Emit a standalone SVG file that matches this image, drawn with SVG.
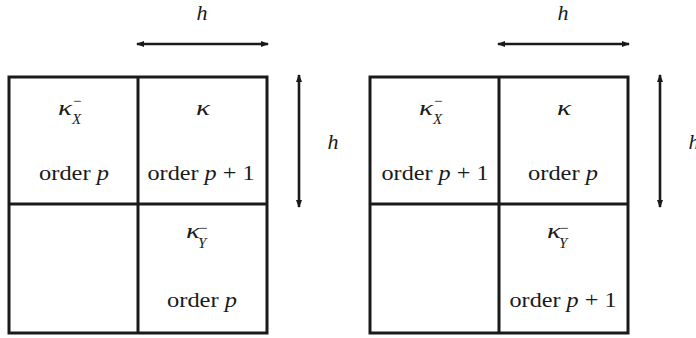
<svg xmlns="http://www.w3.org/2000/svg" width="696" height="338" viewBox="0 0 696 338">
<defs>
<style>
.grid{fill:none;stroke:#1a1a1a;stroke-width:3}
.ln{stroke:#1a1a1a;stroke-width:3;fill:none}
.arr{stroke:#1a1a1a;stroke-width:2.6;fill:none}
text{font-family:"Liberation Serif","Times New Roman",serif;fill:#1a1a1a}
.t{font-size:21px}
.i{font-style:italic}
.k{font-size:22px;font-style:italic}
.s{font-size:15px;font-style:italic}
.m{font-size:15px}
</style>
<marker id="ah" viewBox="0 0 8 6" refX="7" refY="3" markerWidth="8" markerHeight="6" markerUnits="userSpaceOnUse" orient="auto-start-reverse">
<path d="M0,0 L8,3 L0,6 Z" fill="#1a1a1a"/>
</marker>
</defs>

<g id="grid-left">
<rect class="grid" x="9" y="77" width="258" height="256"/>
<line class="ln" x1="138" y1="77" x2="138" y2="333"/>
<line class="ln" x1="9" y1="204" x2="267" y2="204"/>
</g>
<g id="cell-left-tl">
<text class="k" x="58" y="115" textLength="14" lengthAdjust="spacingAndGlyphs">κ</text>
<text class="m" x="73" y="106">−</text>
<text class="s" x="72" y="124">X</text>
<text class="t" x="74" y="180" text-anchor="middle" textLength="70" lengthAdjust="spacingAndGlyphs">order <tspan class="i">p</tspan></text>
</g>
<g id="cell-left-tr">
<text class="k" x="196" y="115" textLength="14" lengthAdjust="spacingAndGlyphs">κ</text>
<text class="t" x="201" y="180" text-anchor="middle" textLength="107" lengthAdjust="spacingAndGlyphs">order <tspan class="i">p</tspan> + 1</text>
</g>
<g id="cell-left-br">
<text class="k" x="186" y="238" textLength="14" lengthAdjust="spacingAndGlyphs">κ</text>
<text class="m" x="199" y="233">−</text>
<text class="s" x="198" y="248">Y</text>
<text class="t" x="202" y="307" text-anchor="middle" textLength="70" lengthAdjust="spacingAndGlyphs">order <tspan class="i">p</tspan></text>
</g>

<g id="grid-right">
<rect class="grid" x="370" y="77" width="258" height="256"/>
<line class="ln" x1="499" y1="77" x2="499" y2="333"/>
<line class="ln" x1="370" y1="204" x2="628" y2="204"/>
</g>
<g id="cell-right-tl">
<text class="k" x="419" y="115" textLength="14" lengthAdjust="spacingAndGlyphs">κ</text>
<text class="m" x="434" y="106">−</text>
<text class="s" x="433" y="124">X</text>
<text class="t" x="435" y="180" text-anchor="middle" textLength="107" lengthAdjust="spacingAndGlyphs">order <tspan class="i">p</tspan> + 1</text>
</g>
<g id="cell-right-tr">
<text class="k" x="557" y="115" textLength="14" lengthAdjust="spacingAndGlyphs">κ</text>
<text class="t" x="563" y="180" text-anchor="middle" textLength="70" lengthAdjust="spacingAndGlyphs">order <tspan class="i">p</tspan></text>
</g>
<g id="cell-right-br">
<text class="k" x="547" y="238" textLength="14" lengthAdjust="spacingAndGlyphs">κ</text>
<text class="m" x="560" y="233">−</text>
<text class="s" x="559" y="248">Y</text>
<text class="t" x="563" y="307" text-anchor="middle" textLength="107" lengthAdjust="spacingAndGlyphs">order <tspan class="i">p</tspan> + 1</text>
</g>

<g id="connectors">
<line class="arr" x1="137" y1="44" x2="268" y2="44" marker-start="url(#ah)" marker-end="url(#ah)"/>
<line class="arr" x1="299" y1="75" x2="299" y2="207" marker-start="url(#ah)" marker-end="url(#ah)"/>
<line class="arr" x1="498" y1="44" x2="629" y2="44" marker-start="url(#ah)" marker-end="url(#ah)"/>
<line class="arr" x1="660" y1="75" x2="660" y2="207" marker-start="url(#ah)" marker-end="url(#ah)"/>
</g>

<g id="labels">
<text class="k" x="202" y="20" text-anchor="middle">h</text>
<text class="k" x="333" y="149" text-anchor="middle">h</text>
<text class="k" x="563" y="20" text-anchor="middle">h</text>
<text class="k" x="694" y="149" text-anchor="middle">h</text>
</g>
</svg>
